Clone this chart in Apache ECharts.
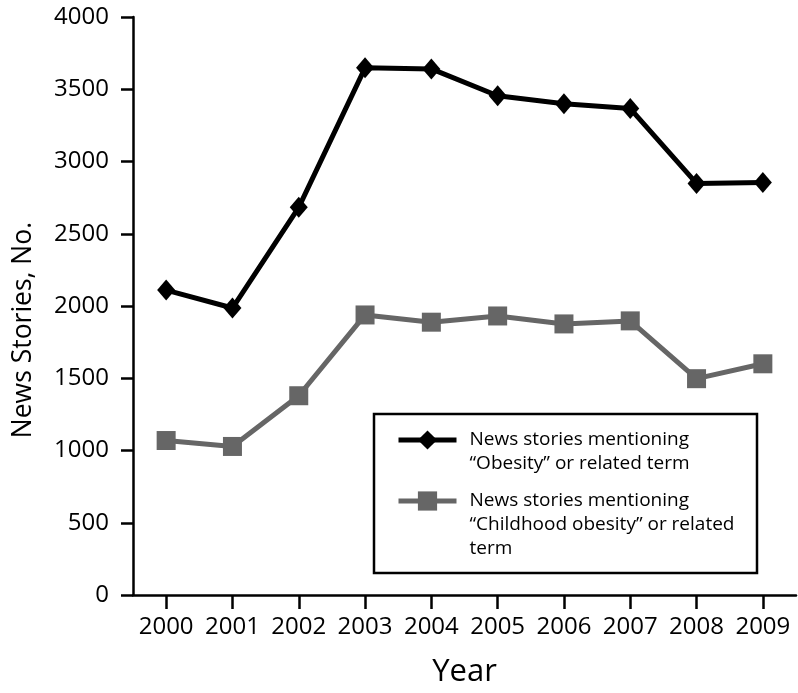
<!DOCTYPE html>
<html>
<head>
<meta charset="utf-8">
<script src="https://cdn.jsdelivr.net/npm/echarts@6/dist/echarts.min.js"></script>
<style>html,body{margin:0;padding:0;background:#fff}#c{width:798px;height:693px}</style>
</head>
<body>
<div id="c"></div>
<script>
const years = ['2000','2001','2002','2003','2004','2005','2006','2007','2008','2009'];
const obesity = [2110, 1986, 2683, 3648, 3641, 3455, 3400, 3366, 2848, 2855];
const childhood = [1069, 1028, 1379, 1938, 1888, 1931, 1876, 1897, 1497, 1600];
const obesityName = 'News stories mentioning\n“Obesity” or related term';
const childhoodName = 'News stories mentioning\n“Childhood obesity” or related\nterm';
const yTitle = 'News Stories, No.';
const xTitle = 'Year';

const FONT = 'Open Sans';
const chart = echarts.init(document.getElementById('c'), null, {renderer: 'canvas'});
chart.setOption({
  animation: false,
  backgroundColor: '#fff',
  grid: {left: 133, right: 2, top: 17, bottom: 96, containLabel: false},
  xAxis: {
    type: 'category',
    data: years,
    boundaryGap: true,
    name: xTitle,
    nameLocation: 'middle',
    nameGap: 62,
    nameTextStyle: {fontFamily: FONT, fontSize: 31, color: '#000'},
    axisLine: {show: true, lineStyle: {color: '#000', width: 2.5}},
    axisTick: {show: true, alignWithLabel: true, length: 14, lineStyle: {color: '#000', width: 2.5}},
    axisLabel: {fontFamily: FONT, fontSize: 24, color: '#000', margin: 20, interval: 0},
    splitLine: {show: false}
  },
  yAxis: {
    type: 'value',
    min: 0, max: 4000, interval: 500,
    name: yTitle,
    nameLocation: 'middle',
    nameGap: 96,
    nameRotate: 90,
    nameMoveOverlap: false,
    nameTextStyle: {fontFamily: FONT, fontSize: 26.5, color: '#000', padding: [0, 48, 0, 0]},
    axisLine: {show: true, lineStyle: {color: '#000', width: 2.5}},
    axisTick: {show: true, length: 12, lineStyle: {color: '#000', width: 2.5}},
    axisLabel: {fontFamily: FONT, fontSize: 24, color: '#000', margin: 24, formatter: v => String(v)},
    splitLine: {show: false}
  },
  legend: {
    orient: 'vertical',
    left: 396,
    top: 404,
    padding: 0,
    itemGap: -35,
    itemWidth: 58,
    itemHeight: 24,
    lineStyle: {width: 5},
    formatter: name => (name === obesityName ? '\n' : '\n\n') + name,
    textStyle: {fontFamily: FONT, fontSize: 19, color: '#000', lineHeight: 24, padding: [0, 0, 0, 8]},
    data: [obesityName, childhoodName]
  },
  graphic: [{
    type: 'rect',
    shape: {x: 374, y: 414, width: 383, height: 159},
    style: {fill: null, stroke: '#000', lineWidth: 2.5},
    silent: true
  }],
  series: [
    {
      name: obesityName,
      type: 'line',
      data: obesity,
      symbol: 'diamond',
      symbolSize: [18, 21],
      lineStyle: {color: '#000', width: 5},
      itemStyle: {color: '#000'},
      z: 3
    },
    {
      name: childhoodName,
      type: 'line',
      data: childhood,
      symbol: 'rect',
      symbolSize: 19,
      lineStyle: {color: '#666', width: 5},
      itemStyle: {color: '#666'},
      z: 2
    }
  ]
});
</script>
</body>
</html>
